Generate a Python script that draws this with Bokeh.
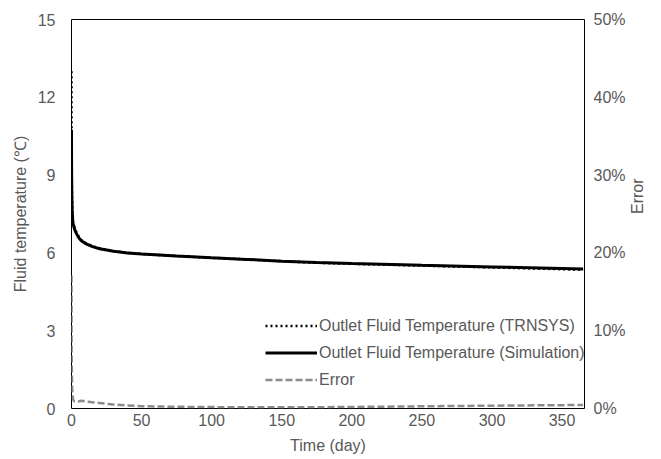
import math
from bokeh.plotting import figure
from bokeh.models import (Range1d, LinearAxis, FixedTicker, NumeralTickFormatter,
                          Legend, LegendItem)
from bokeh.embed import file_html
from bokeh.resources import INLINE

# ---- data ----
days = [0, 0.05, 0.1, 0.25, 0.5, 1, 2, 3, 5, 7, 10, 15, 20, 30, 40, 50,
        75, 100, 125, 150, 175, 200, 250, 300, 365]
temp_simulation = [10.75, 9.6, 9.0, 8.2, 7.6, 7.15, 6.95, 6.8, 6.6, 6.47, 6.36,
                   6.24, 6.16, 6.06, 6.0, 5.96, 5.88, 5.81, 5.75, 5.68, 5.63,
                   5.59, 5.52, 5.46, 5.38]
temp_trnsys = [13.0, 10.5, 9.7, 8.6, 7.8, 7.2, 7.0, 6.85, 6.64, 6.5, 6.39,
               6.26, 6.18, 6.07, 6.01, 5.96, 5.88, 5.81, 5.75, 5.68, 5.62,
               5.58, 5.51, 5.44, 5.35]
error = [0.171, 0.085, 0.07, 0.046, 0.025, 0.012, 0.009, 0.009, 0.009, 0.01,
         0.009, 0.008, 0.007, 0.005, 0.004, 0.003, 0.0022, 0.0018, 0.0015,
         0.0015, 0.0016, 0.002, 0.0028, 0.0036, 0.0045]

x_ticks = [0, 50, 100, 150, 200, 250, 300, 350]
y_ticks = [0, 3, 6, 9, 12, 15]
err_ticks = [0, 0.1, 0.2, 0.3, 0.4, 0.5]

FONT = "Liberation Sans"
GRAY = "#595959"

p = figure(width=661, height=459, output_backend="svg", toolbar_location=None,
           x_range=Range1d(0, 366), y_range=Range1d(0, 15),
           min_border_left=71, min_border_right=77, min_border_top=19,
           min_border_bottom=51)
p.extra_y_ranges = {"err": Range1d(0, 0.5)}
p.grid.visible = False
p.outline_line_color = "black"
p.outline_line_width = 1
p.background_fill_color = "white"
p.border_fill_color = "white"

r_err = p.line(days, error, y_range_name="err", line_color="#8c8c8c",
               line_width=2.5, line_dash="7 3")
r_sim = p.line(days, temp_simulation, line_color="black", line_width=3)
r_trn = p.line(days, temp_trnsys, line_color="black", line_width=2.5,
               line_dash="2 3")

def style_axis(ax, standoff):
    ax.axis_line_color = None
    ax.major_tick_line_color = None
    ax.minor_tick_line_color = None
    ax.major_tick_out = 0
    ax.major_tick_in = 0
    ax.major_label_text_font = FONT
    ax.major_label_text_font_size = "16px"
    ax.major_label_text_color = GRAY
    ax.axis_label_text_font = FONT
    ax.axis_label_text_font_size = "16px"
    ax.axis_label_text_font_style = "normal"
    ax.axis_label_text_color = GRAY
    ax.major_label_standoff = standoff

xa = p.xaxis[0]
xa.ticker = FixedTicker(ticks=x_ticks)
xa.axis_label = "Time (day)"
style_axis(xa, 5)
xa.axis_label_standoff = 8

ya = p.yaxis[0]
ya.ticker = FixedTicker(ticks=y_ticks)
ya.axis_label = "Fluid temperature (\u2103)"
style_axis(ya, 16)
ya.axis_label_standoff = 6

ra = LinearAxis(y_range_name="err", ticker=FixedTicker(ticks=err_ticks),
                formatter=NumeralTickFormatter(format="0%"), axis_label="Error")
style_axis(ra, 9)
ra.axis_label_standoff = 9
ra.axis_label_orientation = math.pi / 2
p.add_layout(ra, "right")

legend = Legend(items=[
    LegendItem(label="Outlet Fluid Temperature (TRNSYS)", renderers=[r_trn]),
    LegendItem(label="Outlet Fluid Temperature (Simulation)", renderers=[r_sim]),
    LegendItem(label="Error", renderers=[r_err]),
], location=(194, 15), orientation="vertical")
legend.background_fill_alpha = 0
legend.border_line_color = None
legend.padding = 0
legend.margin = 0
legend.spacing = 0
legend.glyph_width = 52
legend.glyph_height = 27
legend.label_height = 27
legend.label_standoff = 2
legend.label_text_font = FONT
legend.label_text_font_size = "16px"
legend.label_text_color = GRAY
p.add_layout(legend)

open("out.html", "w").write(file_html(p, INLINE))
